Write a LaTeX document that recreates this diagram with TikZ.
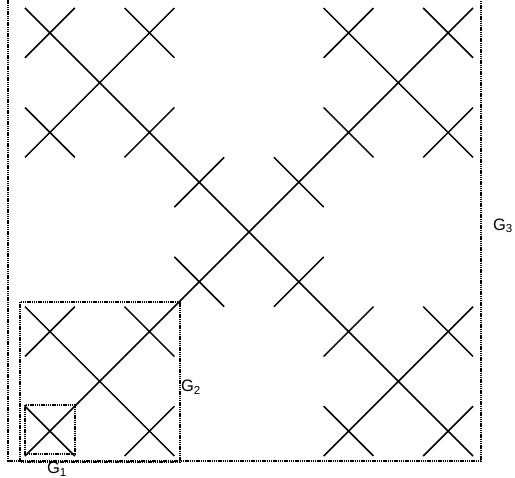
\documentclass[tikz,border=0pt]{standalone}
\usepackage{fontspec}
\setmainfont{Liberation Sans}
\begin{document}
\begin{tikzpicture}[
    x=1pt, y=-1pt,
    every node/.style={font=\fontsize{16.5}{19}\selectfont, inner sep=0pt},
    cross/.style={line width=1.5pt},
    frame/.style={line width=2.4pt, dash pattern=on 1.4pt off 0.8pt}
]
\useasboundingbox (0,0) rectangle (515,478);
\def\unit{49.78}
% the 25 small crosses of G_3
\foreach \i/\j in {0/0,2/0,1/1,0/2,2/2}
  \foreach \k/\l in {0/0,2/0,1/1,0/2,2/2}
    \draw[cross] ({25+(3*\i+\k)*\unit},{8+(3*\j+\l)*\unit}) -- ++(\unit,\unit)
      ({25+(3*\i+\k+1)*\unit},{8+(3*\j+\l)*\unit}) -- ++(-\unit,\unit);
% frames
\draw[frame] (25,405) rectangle (75,454);
\draw[frame] (20,302) rectangle (180,462);
\draw[frame] (8,-2) -- (8,461) -- (481,461) -- (481,-2);
% labels
\node (g1) at (57,469) {G\textsubscript{1}};
\node (g2) at (191,387) {G\textsubscript{2}};
\node (g3) at (503,226) {G\textsubscript{3}};
\end{tikzpicture}
\end{document}
